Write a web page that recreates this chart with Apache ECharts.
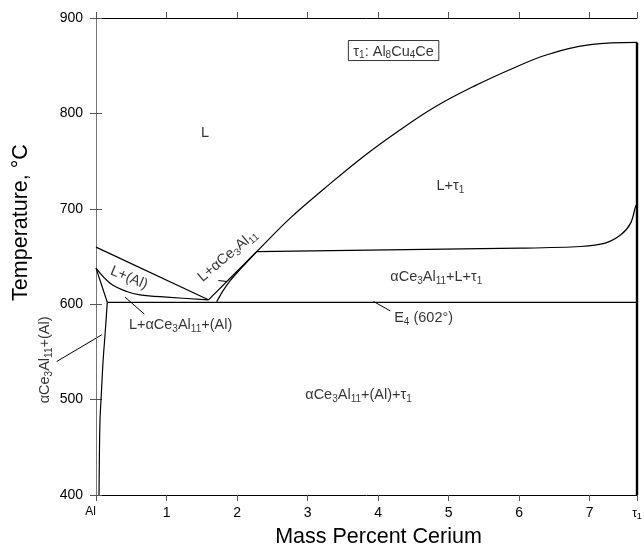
<!DOCTYPE html>
<html>
<head>
<meta charset="utf-8">
<script src="https://cdn.jsdelivr.net/npm/echarts@6/dist/echarts.min.js"></script>
<style>
  html, body { margin: 0; padding: 0; background: #fff; }
  #chart { width: 644px; height: 546px; }
</style>
</head>
<body>
<div id="chart"></div>
<script>
// phase boundaries, [mass % Ce, temperature °C]
const alLiquidus = [[0, 659.8], [1.594, 604.6]];
const alSolidus = [[0, 637.8], [0.2, 622], [0.435, 613.3], [0.624, 609.8], [1.0, 607.4], [1.594, 604.6]];
const alEdge = [[0, 637.8], [0.16, 602]];
const alSolvus = [[0.16, 602], [0.13, 570], [0.10, 540], [0.075, 505], [0.057, 479], [0.048, 440], [0.043, 400]];
const eutectic = [[0.16, 602], [7.67, 602]];
const ceLiquidus = [
    [1.594, 604.6], [2.28, 655.2], [2.753, 690.2], [3.226, 720.5], [3.793, 754.9], [4.314, 782.9],
    [4.787, 806], [5.354, 828.3], [5.922, 847.6], [6.395, 861.5], [7.01, 872], [7.67, 874.4],
];
const ceSolidus = [[1.71, 602.5], [1.8, 614], [1.9, 624.5], [2.05, 637], [2.28, 655.2]];
const peritectic = [[2.28, 655.2], [6.017, 658.8], [6.87, 660.5], [7.22, 664], [7.44, 672.7], [7.58, 685], [7.65, 702.4], [7.67, 705]];
const tauLine = [[7.67, 400], [7.67, 874.4]];

// leader lines
const leaders = [
    [[-0.558, 539.9], [0.081, 567.9]],
    [[0.412, 607.4], [0.685, 589.6]],
    [[1.735, 624.8], [1.855, 623.8]],
    [[3.935, 602.8], [4.172, 593]],
];

// region labels
const labels = [
    { text: '{n|L}', at: [1.547, 779.7] },
    { text: '{n|L+τ}{s|1}', at: [5.023, 723.4] },
    { text: '{n|αCe}{s|3}{n|Al}{s|11}{n|+L+τ}{s|1}', at: [4.825, 628.7] },
    { text: '{n|E}{s|4}{n| (602°)}', at: [4.645, 585.7] },
    { text: '{n|L+αCe}{s|3}{n|Al}{s|11}{n|+(Al)}', at: [1.199, 578.3] },
    { text: '{n|L+(Al)}', at: [0.468, 627.6], rotate: -23 },
    { text: '{n|L+αCe}{s|3}{n|Al}{s|11}', at: [1.866, 650.7], rotate: 40 },
    { text: '{n|αCe}{s|3}{n|Al}{s|11}{n|+(Al)+τ}{s|1}', at: [3.722, 504.9] },
    { text: '{n|αCe}{s|3}{n|Al}{s|11}{n|+(Al)}', at: [-0.724, 541.6], rotate: 90 },
];
const boxLabel = { text: '{n|τ}{s|1}{n|: Al}{s|8}{n|Cu}{s|4}{n|Ce}', at: [4.219, 865.9] };

const xMax = 7.67;
const font = '"Liberation Sans", Arial, sans-serif';
const rich = {
    n: { fontSize: 14.5, fontFamily: font, color: '#000', lineHeight: 16 },
    s: { fontSize: 10, fontFamily: font, color: '#000', lineHeight: 10, padding: [8, 0, 0, 0] },
};

const chart = echarts.init(document.getElementById('chart'));

function curve(data, opts) {
    return Object.assign({
        type: 'line',
        data: data,
        showSymbol: false,
        silent: true,
        smooth: 0.35,
        lineStyle: { color: '#000', width: 1.2 },
    }, opts || {});
}

const series = [
    curve(alLiquidus),
    curve(alSolidus),
    curve(alEdge),
    curve(alSolvus),
    curve(eutectic),
    curve(ceLiquidus, { smooth: 0.4 }),
    curve(ceSolidus),
    curve(peritectic, { smooth: 0.3 }),
    curve(tauLine, { lineStyle: { color: '#000', width: 2.4 } }),
];

series.push({
    type: 'scatter',
    symbolSize: 0,
    silent: true,
    clip: false,
    data: labels.concat([boxLabel]).map((d, i) => ({
        value: d.at,
        label: {
            show: true,
            position: 'inside',
            formatter: d.text,
            rotate: d.rotate || 0,
            rich: rich,
            borderColor: i === labels.length ? '#000' : 'transparent',
            borderWidth: i === labels.length ? 1 : 0,
            padding: i === labels.length ? [3, 5, 1, 5] : 0,
        },
    })),
});

const tickStyle = { show: true, length: 6, lineStyle: { color: '#555' } };
const lineStyle = { show: true, lineStyle: { color: '#000', width: 1 } };

chart.setOption({
    animation: false,
    grid: { left: 96, right: 7, top: 18, bottom: 51, outerBoundsMode: 'none', containLabel: false },
    xAxis: [
        {
            type: 'value',
            min: 0,
            max: xMax,
            interval: 1,
            position: 'bottom',
            name: 'Mass Percent Cerium',
            nameLocation: 'middle',
            nameGap: 31,
            nameTextStyle: { fontSize: 21.5, fontFamily: font, color: '#000', padding: [0, 0, 0, 24] },
            axisLine: lineStyle,
            axisTick: tickStyle,
            splitLine: { show: false },
            axisLabel: {
                margin: 11,
                fontSize: 14,
                fontFamily: font,
                color: '#000',
                showMinLabel: true,
                showMaxLabel: true,
                alignMinLabel: 'right',
                alignMaxLabel: 'center',
                formatter(v) {
                    if (v === 0) return '{a|Al}';
                    if (v > 7.5) return '{a|τ}{b|1}';
                    return String(v);
                },
                rich: {
                    a: { fontSize: 12, fontFamily: font, color: '#000' },
                    b: { fontSize: 9, fontFamily: font, color: '#000', padding: [6, 0, 0, 0] },
                },
            },
        },
        {
            type: 'value',
            min: 0,
            max: xMax,
            interval: 1,
            position: 'top',
            axisLine: lineStyle,
            axisTick: tickStyle,
            axisLabel: { show: false },
            splitLine: { show: false },
        },
    ],
    yAxis: [
        {
            type: 'value',
            min: 400,
            max: 900,
            interval: 100,
            position: 'left',
            name: 'Temperature, °C',
            nameLocation: 'middle',
            nameGap: 64,
            nameTextStyle: { fontSize: 21.5, fontFamily: font, color: '#000', padding: [0, 0, 0, 68] },
            axisLine: lineStyle,
            axisTick: tickStyle,
            splitLine: { show: false },
            axisLabel: { margin: 13, fontSize: 14, fontFamily: font, color: '#000' },
        },
        {
            type: 'value',
            min: 400,
            max: 900,
            interval: 100,
            position: 'right',
            axisLine: { show: true, lineStyle: { color: '#777', width: 1 } },
            axisTick: tickStyle,
            axisLabel: { show: false },
            splitLine: { show: false },
        },
    ],
    series: series,
});

// leader lines can reach outside the plot, so draw them as graphics placed by the axes
chart.setOption({
    graphic: leaders.map((l) => {
        const a = chart.convertToPixel({ gridIndex: 0 }, l[0]);
        const b = chart.convertToPixel({ gridIndex: 0 }, l[1]);
        return {
            type: 'line',
            silent: true,
            shape: { x1: a[0], y1: a[1], x2: b[0], y2: b[1] },
            style: { stroke: '#000', lineWidth: 1 },
        };
    }),
});
</script>
</body>
</html>
